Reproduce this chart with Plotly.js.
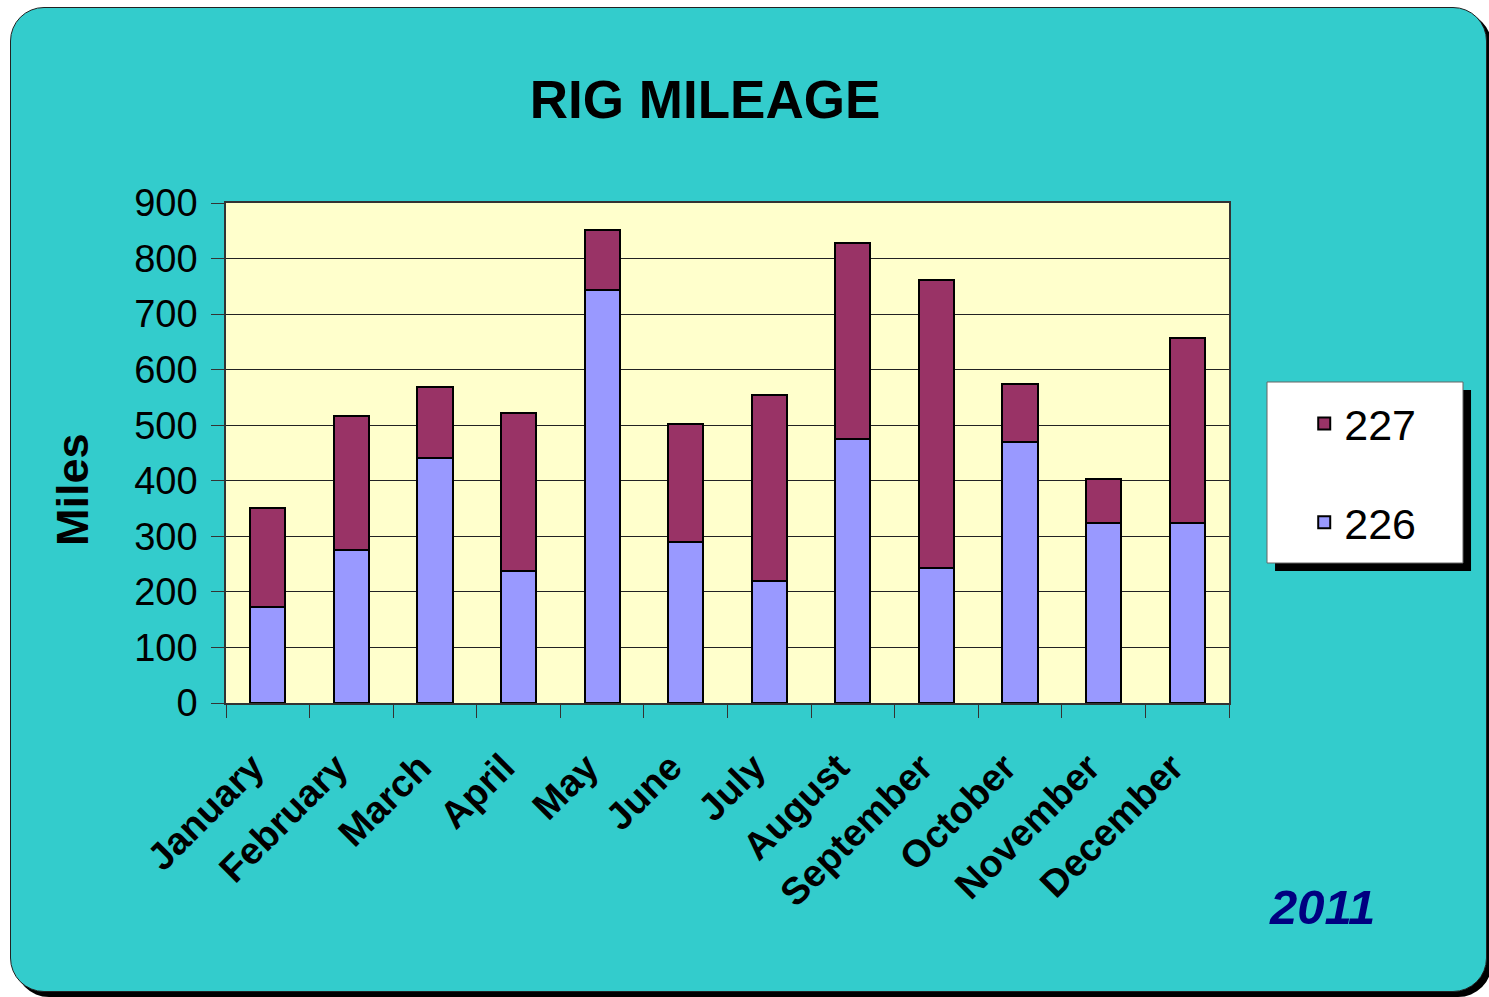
<!DOCTYPE html>
<html>
<head>
<meta charset="utf-8">
<script src="https://cdn.plot.ly/plotly-3.0.1.min.js"></script>
<style>
  body { margin: 0; background: #ffffff; }
  #frame {
    position: absolute; left: 10px; top: 7px; width: 1475px; height: 983px;
    background: #33CCCC; border: 1.5px solid #222; border-radius: 34px;
    box-shadow: 5px 5px 0 #000;
  }
  #chart { position: absolute; left: 0; top: 0; width: 1489px; height: 997px; }
</style>
</head>
<body>
<div id="frame"></div>
<div id="chart"></div>
<script>
var months = ['January', 'February', 'March', 'April', 'May', 'June',
  'July', 'August', 'September', 'October', 'November', 'December'];
var rig226 = [173, 275, 441, 238, 743, 290, 220, 475, 243, 470, 324, 324];
var rig227 = [178, 241, 128, 284, 108, 212, 334, 353, 518, 104, 79, 333];

var trace226 = {
  x: months,
  y: rig226,
  name: '226',
  type: 'bar',
  legendgroup: 'a',
  legendrank: 2,
  marker: { color: '#9999FF', line: { color: '#000', width: 2 } },
  hoverinfo: 'x+y+name'
};

var trace227 = {
  x: months,
  y: rig227,
  name: '227',
  type: 'bar',
  legendgroup: 'b',
  legendrank: 1,
  marker: { color: '#993366', line: { color: '#000', width: 2 } },
  hoverinfo: 'x+y+name'
};

var data = [trace226, trace227];
var layout = {
  width: 1489,
  height: 997,
  barmode: 'stack',
  bargap: 0.58,
  paper_bgcolor: 'rgba(0,0,0,0)',
  plot_bgcolor: '#FFFFCC',
  margin: { l: 226, r: 260, t: 203, b: 294 },
  font: { family: 'Liberation Sans, Arial, sans-serif', color: '#000' },
  title: {
    text: '<b>RIG MILEAGE</b>',
    font: { size: 53, color: '#000' },
    x: 0.4735, xanchor: 'center', y: 0.9, yanchor: 'middle'
  },
  xaxis: {
    type: 'category',
    tickangle: -45,
    tickfont: { size: 38, family: 'Liberation Sans, Arial, sans-serif' },
    tickprefix: '<b>', ticksuffix: '</b>\u00a0\u00a0',
    ticks: 'outside', tickson: 'boundaries', ticklen: 13, tickcolor: '#333',
    ticklabelstandoff: 10,
    showline: true, linecolor: '#333', linewidth: 1.5, mirror: true,
    showgrid: false
  },
  yaxis: {
    range: [0, 900],
    dtick: 100,
    tickfont: { size: 38 },
    ticks: 'outside', ticklen: 13, tickcolor: '#333',
    ticklabelstandoff: 6,
    showline: true, linecolor: '#333', linewidth: 1.5, mirror: true,
    gridcolor: '#222', gridwidth: 1,
    zeroline: false
  },
  legend: {
    traceorder: 'grouped',
    tracegroupgap: 40,
    bgcolor: 'rgba(0,0,0,0)',
    borderwidth: 0,
    font: { size: 43 },
    x: 1.075, xanchor: 'left',
    y: 0.46, yanchor: 'middle'
  },
  shapes: [
    { type: 'rect', xref: 'paper', yref: 'paper', layer: 'above',
      x0: 1.0459, x1: 1.2413, y0: 0.264, y1: 0.626,
      fillcolor: '#000', line: { width: 0 } },
    { type: 'rect', xref: 'paper', yref: 'paper', layer: 'above',
      x0: 1.0379, x1: 1.2333, y0: 0.28, y1: 0.642,
      fillcolor: '#fff', line: { color: '#666', width: 1 } }
  ],
  annotations: [
    { text: '<b>Miles</b>', xref: 'paper', yref: 'paper',
      x: -0.1535, y: 0.426, xanchor: 'center', yanchor: 'middle',
      textangle: -90, showarrow: false, font: { size: 45 } },
    { text: '<b><i>2011</i></b>', xref: 'paper', yref: 'paper',
      x: 1.0927, y: -0.408, xanchor: 'center', yanchor: 'middle',
      showarrow: false, font: { size: 49, color: '#000080' } }
  ]
};

var config = { responsive: false, displayModeBar: false };
Plotly.newPlot('chart', data, layout, config);
</script>
</body>
</html>
